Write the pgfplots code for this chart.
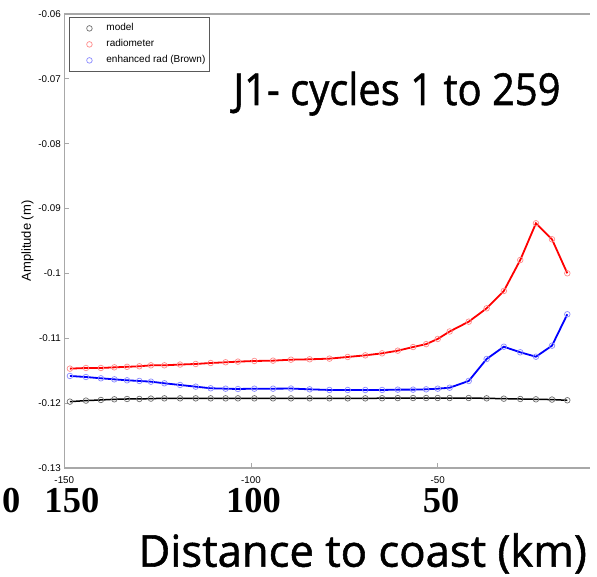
\documentclass[border=0pt]{standalone}
\usepackage{pgfplots}
\usepackage{pgfplotstable}
\pgfplotsset{compat=1.18}
\usepackage{fontspec}
\setmainfont{Liberation Sans}
\newfontfamily\comic{Open Sans}[FakeBold=1.2]
\newfontfamily\timesb{Liberation Serif}
\definecolor{lred}{HTML}{FF8A8A}
\definecolor{lblue}{HTML}{8A8AFF}
\definecolor{lgray}{HTML}{6E6E6E}
\definecolor{spine}{HTML}{A8A8A8}

\pgfplotstableread{
x model radio enh
-148.5 -0.11977 -0.11468 -0.11581
-144.2 -0.11961 -0.11458 -0.11597
-140.2 -0.11951 -0.11458 -0.11617
-136.6 -0.11941 -0.11448 -0.11633
-133.2 -0.11936 -0.11440 -0.11648
-129.9 -0.11936 -0.11432 -0.11658
-126.8 -0.11930 -0.11417 -0.11669
-123.2 -0.11926 -0.11417 -0.11694
-119.0 -0.11926 -0.11405 -0.11720
-114.8 -0.11926 -0.11396 -0.11746
-110.8 -0.11926 -0.11381 -0.11771
-106.8 -0.11926 -0.11370 -0.11777
-103.5 -0.11926 -0.11360 -0.11782
-99.1 -0.11926 -0.11350 -0.11777
-94.1 -0.11926 -0.11345 -0.11777
-89.3 -0.11926 -0.11330 -0.11775
-84.3 -0.11926 -0.11324 -0.11787
-79.0 -0.11926 -0.11314 -0.11797
-74.1 -0.11926 -0.11288 -0.11797
-69.4 -0.11926 -0.11263 -0.11797
-64.9 -0.11924 -0.11232 -0.11797
-60.7 -0.11922 -0.11191 -0.11792
-56.6 -0.11921 -0.11135 -0.11792
-53.1 -0.11921 -0.11090 -0.11787
-50.0 -0.11921 -0.11010 -0.11777
-46.8 -0.11921 -0.10895 -0.11762
-41.7 -0.11921 -0.10744 -0.11658
-36.9 -0.11926 -0.10538 -0.11319
-32.3 -0.11931 -0.10271 -0.11130
-27.9 -0.11936 -0.09793 -0.11216
-23.7 -0.11941 -0.09227 -0.11284
-19.4 -0.11945 -0.09474 -0.11114
-15.3 -0.11956 -0.09998 -0.10630
}\datatable

\begin{document}
\begin{tikzpicture}[x=1bp,y=1bp]
\path[use as bounding box] (0,0) rectangle (597,577);
\begin{axis}[
  at={(64.3bp,109bp)}, anchor=south west,
  scale only axis, width=525.4bp, height=454bp,
  xmin=-150, xmax=-9.3, ymin=-0.13, ymax=-0.06,
  axis line style={draw=none},
  tick align=inside, xtick pos=bottom, ytick pos=left,
  major tick length=4.7bp,
  every tick/.style={spine, line width=0.8bp},
  xtick={-150,-100,-50}, xticklabels={-150,-100,-50},
  ytick={-0.13,-0.12,-0.11,-0.1,-0.09,-0.08,-0.07,-0.06},
  yticklabels={-0.13,-0.12,-0.11,-0.1,-0.09,-0.08,-0.07,-0.06},
  ticklabel style={font=\fontsize{9.8bp}{10bp}\selectfont},
  xticklabel style={yshift=-5bp},
  ylabel={Amplitude (m)},
  every axis y label/.style={at={(axis description cs:-0.070,0.5)}, rotate=90, anchor=center, font=\fontsize{13bp}{13bp}\selectfont},
  clip=false,
  legend cell align=left,
  legend image code/.code={\path[draw=none,fill=none] (0bp,0bp) -- (33bp,0bp); \draw[#1] plot coordinates {(16bp,0bp)};},
  legend style={at={(axis description cs:0.009,0.9934)}, anchor=north west,
    draw=black!65, line width=0.8bp, inner xsep=4bp, inner ysep=3bp,
    row sep=0pt, column sep=0pt, font=\fontsize{10bp}{10bp}\selectfont,
    nodes={inner xsep=0pt, inner ysep=0pt, text height=7.5bp, text depth=2.5bp, minimum height=16bp}},
]
\addplot[only marks, mark=o, mark size=2.8bp, lgray, mark options={line width=0.7bp}] table[x=x,y=model] {\datatable};
\addlegendentry{model}
\addplot[only marks, mark=o, mark size=2.8bp, lred, mark options={line width=0.7bp}] table[x=x,y=radio] {\datatable};
\addlegendentry{radiometer}
\addplot[only marks, mark=o, mark size=2.8bp, lblue, mark options={line width=0.7bp}] table[x=x,y=enh] {\datatable};
\addlegendentry{enhanced rad (Brown)}
\addplot[forget plot, no marks, black, line width=1.5bp] table[x=x,y=model] {\datatable};
\addplot[forget plot, no marks, red, line width=1.8bp] table[x=x,y=radio] {\datatable};
\addplot[forget plot, no marks, blue, line width=1.8bp] table[x=x,y=enh] {\datatable};
\draw[spine, line width=1.5bp] (rel axis cs:0,1) -- (rel axis cs:0,0) -- (rel axis cs:1,0);
\draw[spine, line width=1.5bp] (rel axis cs:0,1) -- (rel axis cs:1,1);
\end{axis}
\node[anchor=base west, inner sep=0pt] at (233.3,472) {\resizebox{327bp}{\height}{\comic\fontsize{44bp}{44bp}\selectfont J1- cycles 1 to 259}};
\node[anchor=base west, inner sep=0pt] at (138.3,10.3) {\resizebox{448.4bp}{\height}{\comic\fontsize{44bp}{44bp}\selectfont Distance to coast (km)}};
\begin{scope}[every node/.style={anchor=base west, inner sep=0pt, font=\timesb\bfseries\fontsize{36.5bp}{36.5bp}\selectfont}]
\node at (2.0,64.3) {0};
\node at (44.3,64.3) {150};
\node at (226.0,64.3) {100};
\node at (422.6,64.3) {50};
\end{scope}
\end{tikzpicture}
\end{document}
